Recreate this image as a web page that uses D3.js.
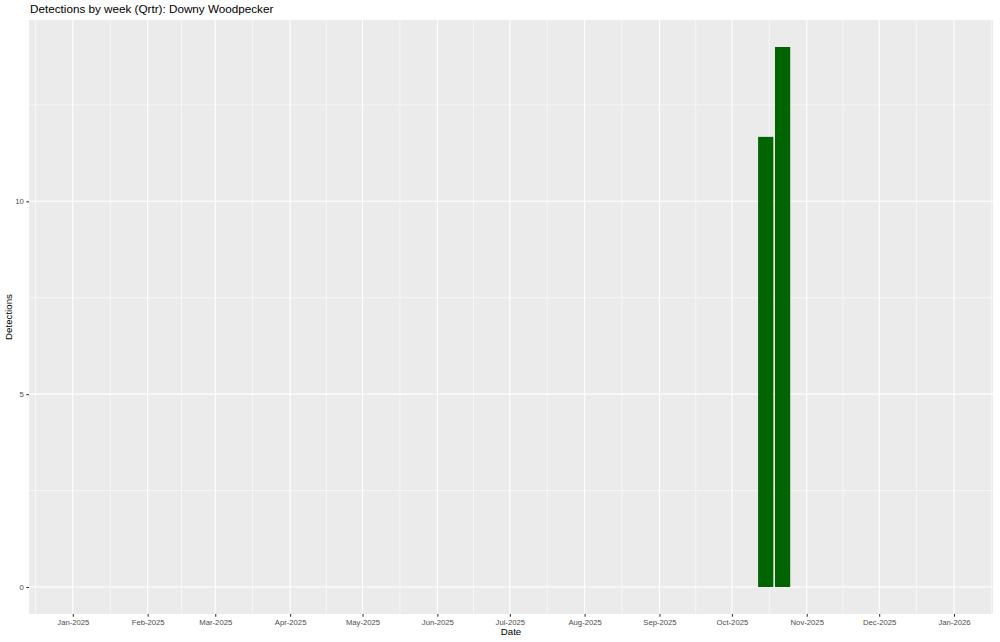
<!DOCTYPE html>
<html><head><meta charset="utf-8">
<script src="https://cdn.jsdelivr.net/npm/d3@7"></script>
<style>body{margin:0;background:#fff}svg{display:block}text{font-family:"Liberation Sans",Arial,Helvetica,sans-serif}</style>
</head><body><svg id="c" width="1000" height="642"></svg>
<script>
const weekDates = ["2025-10-15","2025-10-22"];
const detections = [11.67, 14];
const xLimits = ["2025-01-01","2025-12-30"];
const yTicks = [0,5,10];
const monthTicks = ["2025-01-01","2025-02-01","2025-03-01","2025-04-01","2025-05-01","2025-06-01","2025-07-01","2025-08-01","2025-09-01","2025-10-01","2025-11-01","2025-12-01","2026-01-01"];
const title = "Detections by week (Qrtr): Downy Woodpecker";

const W=1000,H=642;
const m={l:29,r:7,t:20,b:28};
const svg=d3.select("#c");
const parse=d3.utcParse("%Y-%m-%d");
const fmt=d3.utcFormat("%b-%Y");
const x0=parse(xLimits[0]), x1=parse(xLimits[1]);
const span=x1-x0;
const x=d3.scaleUtc().domain([new Date(+x0-span*0.05), new Date(+x1+span*0.05)]).range([m.l,W-m.r]);
const ymax=d3.max(detections);
const y=d3.scaleLinear().domain([-ymax*0.05, ymax*1.05]).range([H-m.b,m.t]);

svg.append("text").attr("x",30).attr("y",13).attr("font-size",11.7).attr("fill","#000").text(title);
svg.append("rect").attr("x",m.l).attr("y",m.t).attr("width",W-m.l-m.r).attr("height",H-m.t-m.b).attr("fill","#ebebeb");

const mt=monthTicks.map(parse);
const minorX=[];
for(let i=0;i<mt.length-1;i++) minorX.push(new Date((+mt[i]+ +mt[i+1])/2));
minorX.unshift(new Date(+mt[0]-(mt[1]-mt[0])/2));
minorX.push(new Date(+mt[mt.length-1]+(mt[1]-mt[0])/2));
const g=svg.append("g");
minorX.filter(d=>x(d)>m.l&&x(d)<W-m.r).forEach(d=>g.append("line").attr("x1",x(d)).attr("x2",x(d)).attr("y1",m.t).attr("y2",H-m.b).attr("stroke","#fff").attr("stroke-width",0.55));
[2.5,7.5,12.5].forEach(v=>g.append("line").attr("x1",m.l).attr("x2",W-m.r).attr("y1",y(v)).attr("y2",y(v)).attr("stroke","#fff").attr("stroke-width",0.55));
mt.forEach(d=>g.append("line").attr("x1",x(d)).attr("x2",x(d)).attr("y1",m.t).attr("y2",H-m.b).attr("stroke","#fff").attr("stroke-width",1.1));
yTicks.forEach(v=>g.append("line").attr("x1",m.l).attr("x2",W-m.r).attr("y1",y(v)).attr("y2",y(v)).attr("stroke","#fff").attr("stroke-width",1.1));

const day=86400000;
const bw=x(new Date(+x0+6.3*day))-x(x0);
svg.selectAll("rect.bar").data(weekDates.map((d,i)=>({d:parse(d),v:detections[i]}))).join("rect")
 .attr("class","bar").attr("x",d=>x(d.d)-bw/2).attr("width",bw)
 .attr("y",d=>y(d.v)).attr("height",d=>y(0)-y(d.v)).attr("fill","#006400");

const xa=d3.axisBottom(x).tickValues(mt).tickFormat(fmt).tickSize(2.7).tickPadding(2.5);
const xg=svg.append("g").attr("transform",`translate(0,${H-m.b})`).call(xa);
xg.select(".domain").remove();
xg.selectAll("line").attr("stroke","#333").attr("stroke-width",1.07);
xg.selectAll("text").attr("font-size",7.7).attr("fill","#4d4d4d").attr("font-family","Liberation Sans, Arial, sans-serif");
const ya=d3.axisLeft(y).tickValues(yTicks).tickSize(2.7).tickPadding(2.5);
const yg=svg.append("g").attr("transform",`translate(${m.l},0)`).call(ya);
yg.select(".domain").remove();
yg.selectAll("line").attr("stroke","#333").attr("stroke-width",1.07);
yg.selectAll("text").attr("font-size",7.7).attr("fill","#4d4d4d").attr("font-family","Liberation Sans, Arial, sans-serif");

svg.append("text").attr("x",(m.l+W-m.r)/2).attr("y",635).attr("text-anchor","middle").attr("font-size",9.7).text("Date");
svg.append("text").attr("transform",`translate(12,${(m.t+H-m.b)/2}) rotate(-90)`).attr("text-anchor","middle").attr("font-size",9.7).text("Detections");
</script></body></html>
